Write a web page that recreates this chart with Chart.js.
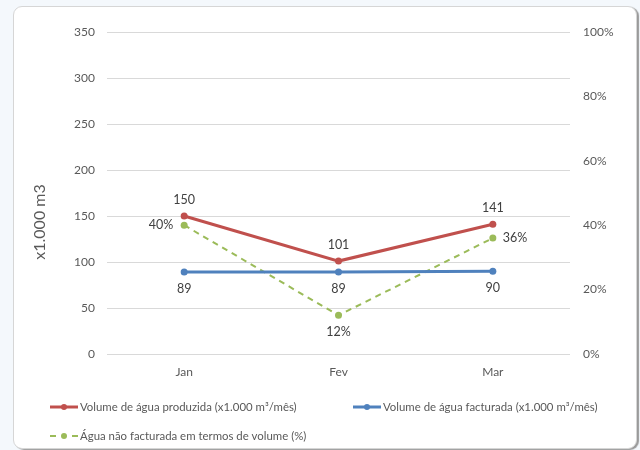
<!DOCTYPE html>
<html>
<head>
<meta charset="utf-8">
<script src="https://cdn.jsdelivr.net/npm/chart.js@4/dist/chart.umd.min.js"></script>
<style>
  html, body { margin: 0; padding: 0; background: #f4f8fc; }
  #wrap { position: relative; width: 640px; height: 450px; overflow: hidden; }
  #card {
    position: absolute; left: 13px; top: 6px; width: 622px; height: 441px;
    background: #ffffff; border: 1px solid #d6d6d6; border-radius: 9px;
    box-shadow: 2px 1px 1px #9a9a9a;
  }
  #c { position: absolute; left: 0; top: 0; }
</style>
</head>
<body>
<div id="wrap">
  <div id="card"></div>
  <canvas id="c" width="640" height="450"></canvas>
</div>
<script>
const months = ['Jan', 'Fev', 'Mar'];
const produced = [150, 101, 141];     // x1.000 m3 / month
const billed = [89, 89, 90];          // x1.000 m3 / month
const nonRevenuePct = [40, 12, 36];   // %
const leftTicks = [0, 50, 100, 150, 200, 250, 300, 350];
const rightTicks = [0, 20, 40, 60, 80, 100];

const seriesNames = [
  'Volume de água produzida (x1.000 m³/mês)',
  'Volume de água facturada (x1.000 m³/mês)',
  'Água não facturada em termos de volume (%)'
];

const FONT = 'Lato, "Open Sans", sans-serif';
const RED = '#c0504d', BLUE = '#4f81bd', GREEN = '#9bbb59';

// value labels: dataset index -> placement of the label around each point
const labelPlacement = [
  ['top', 'top', 'top'],
  ['bottom', 'bottom', 'bottom'],
  ['left', 'bottom', 'right']
];

const valueLabels = {
  id: 'valueLabels',
  afterDatasetsDraw(chart) {
    const ctx = chart.ctx;
    ctx.save();
    ctx.font = '12.5px ' + FONT;
    ctx.fillStyle = '#404040';
    chart.data.datasets.forEach((ds, di) => {
      const meta = chart.getDatasetMeta(di);
      meta.data.forEach((pt, i) => {
        const txt = ds.data[i] + (di === 2 ? '%' : '');
        const pos = labelPlacement[di][i];
        let x = pt.x, y = pt.y;
        ctx.textBaseline = 'middle';
        ctx.textAlign = 'center';
        if (pos === 'top') y -= 16;
        else if (pos === 'bottom') y += 17;
        else if (pos === 'left') { x -= 11; ctx.textAlign = 'right'; }
        else if (pos === 'right') { x += 10; ctx.textAlign = 'left'; }
        ctx.fillText(txt, x, y);
      });
    });
    ctx.restore();
  }
};

const decorations = {
  id: 'decorations',
  afterDraw(chart) {
    const ctx = chart.ctx;
    ctx.save();
    // left axis title
    ctx.translate(40, 222);
    ctx.rotate(-Math.PI / 2);
    ctx.font = '16px ' + FONT;
    ctx.fillStyle = '#595959';
    ctx.textAlign = 'center';
    ctx.textBaseline = 'middle';
    ctx.fillText('x1.000 m3', 0, 0);
    ctx.restore();

    // legend
    const items = [
      { x: 50, y: 407, color: RED, dash: false },
      { x: 353, y: 407, color: BLUE, dash: false },
      { x: 50, y: 436, color: GREEN, dash: true }
    ];
    ctx.save();
    ctx.font = '11.4px ' + FONT;
    ctx.textBaseline = 'middle';
    ctx.textAlign = 'left';
    items.forEach((it, k) => {
      ctx.strokeStyle = it.color;
      ctx.fillStyle = it.color;
      if (it.dash) {
        ctx.lineWidth = 2;
        ctx.beginPath();
        ctx.moveTo(it.x, it.y); ctx.lineTo(it.x + 6, it.y);
        ctx.moveTo(it.x + 22, it.y); ctx.lineTo(it.x + 28, it.y);
        ctx.stroke();
      } else {
        ctx.lineWidth = 3;
        ctx.beginPath();
        ctx.moveTo(it.x, it.y); ctx.lineTo(it.x + 28, it.y);
        ctx.stroke();
      }
      ctx.beginPath();
      ctx.arc(it.x + 14, it.y, 3, 0, Math.PI * 2);
      ctx.fill();
      ctx.fillStyle = '#595959';
      ctx.fillText(seriesNames[k], it.x + 30, it.y);
    });
    ctx.restore();
  }
};

new Chart(document.getElementById('c'), {
  type: 'line',
  data: {
    labels: months,
    datasets: [
      {
        label: seriesNames[0], data: produced, yAxisID: 'y',
        borderColor: RED, backgroundColor: RED, borderWidth: 3,
        pointRadius: 3.5, pointBackgroundColor: RED, pointBorderWidth: 0
      },
      {
        label: seriesNames[1], data: billed, yAxisID: 'y',
        borderColor: BLUE, backgroundColor: BLUE, borderWidth: 3,
        pointRadius: 3.5, pointBackgroundColor: BLUE, pointBorderWidth: 0
      },
      {
        label: seriesNames[2], data: nonRevenuePct, yAxisID: 'y1',
        borderColor: GREEN, backgroundColor: GREEN, borderWidth: 2,
        borderDash: [6, 5],
        pointRadius: 3.5, pointBackgroundColor: GREEN, pointBorderWidth: 0
      }
    ]
  },
  options: {
    responsive: false,
    animation: false,
    events: [],
    layout: { padding: { top: 32, bottom: 66, left: 0, right: 0 } },
    plugins: { legend: { display: false }, tooltip: { enabled: false } },
    scales: {
      x: {
        offset: true,
        grid: { display: false },
        border: { display: false },
        ticks: { color: '#595959', font: { family: FONT, size: 12 }, padding: 3 },
        afterFit(s) { s.height = 30; }
      },
      y: {
        position: 'left',
        min: 0, max: 350,
        afterBuildTicks(s) { s.ticks = leftTicks.map(v => ({ value: v })); },
        grid: { color: '#d9d9d9', lineWidth: 1, drawTicks: false },
        border: { display: false },
        ticks: { color: '#595959', font: { family: FONT, size: 12 }, padding: 12 },
        afterFit(s) { s.width = 107; }
      },
      y1: {
        position: 'right',
        min: 0, max: 100,
        afterBuildTicks(s) { s.ticks = rightTicks.map(v => ({ value: v })); },
        grid: { display: false, drawTicks: false },
        border: { display: false },
        ticks: {
          color: '#595959', font: { family: FONT, size: 12 }, padding: 13,
          callback: v => v + '%'
        },
        afterFit(s) { s.width = 70; }
      }
    }
  },
  plugins: [valueLabels, decorations]
});
</script>
</body>
</html>
